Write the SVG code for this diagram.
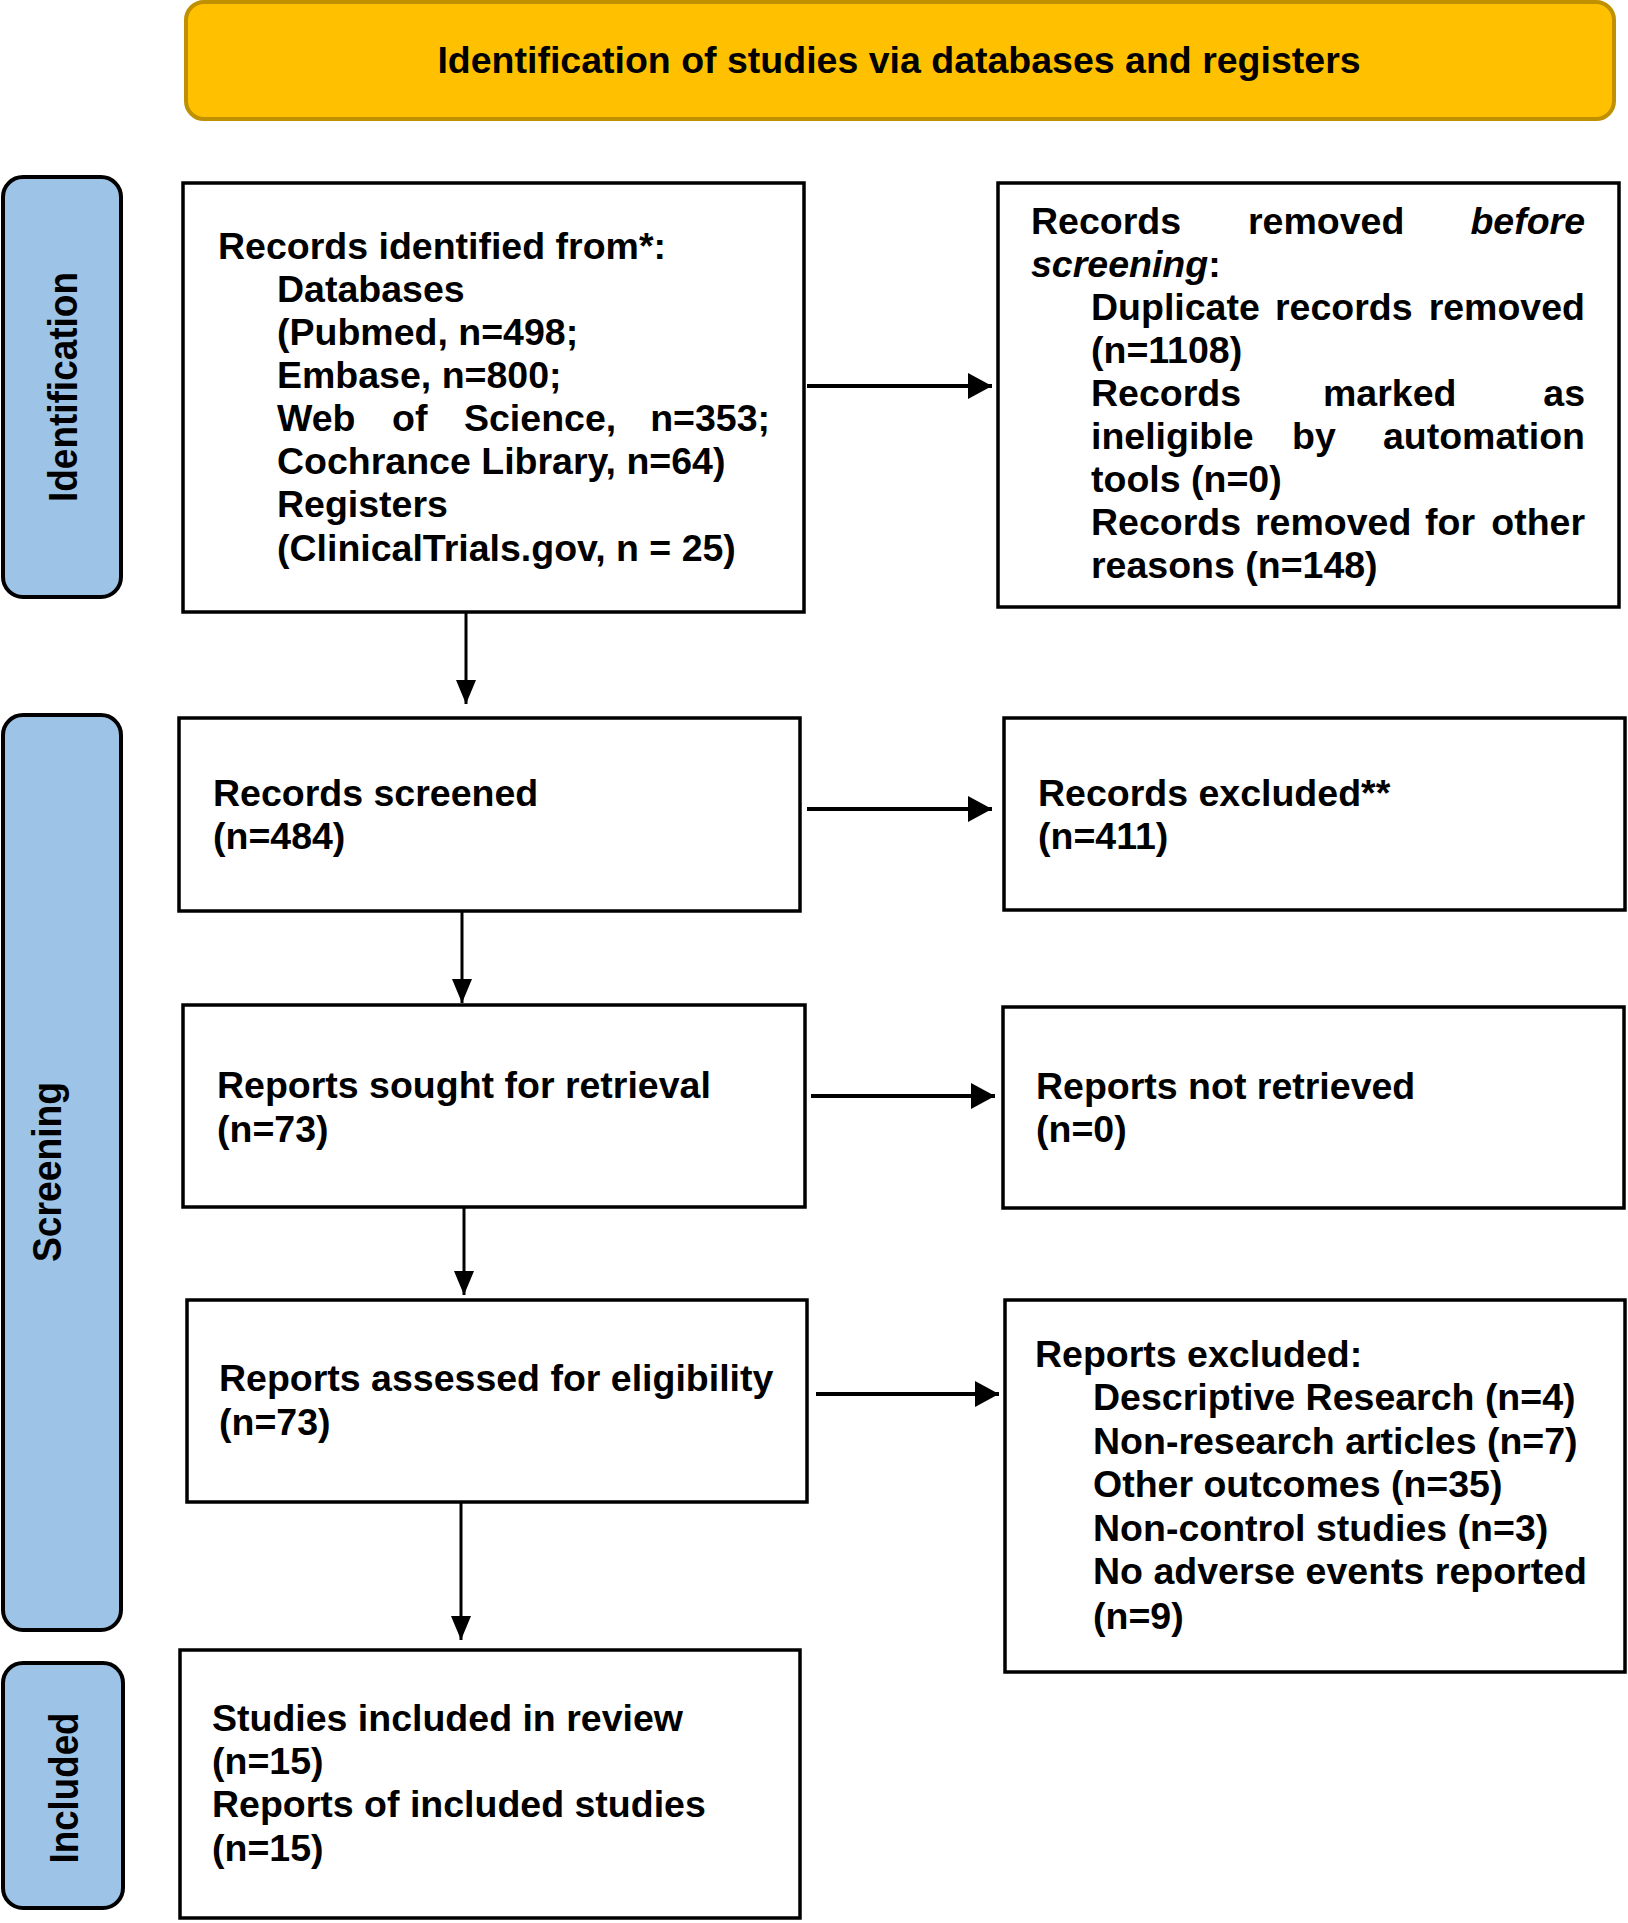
<svg xmlns="http://www.w3.org/2000/svg" width="1628" height="1923" viewBox="0 0 1628 1923">
<style>
text{font-family:"Liberation Sans",Arial,sans-serif;font-weight:bold;font-size:37.5px;fill:#000}
.box{fill:#fff;stroke:#000;stroke-width:3.5}
.side{fill:#9DC3E6;stroke:#000;stroke-width:4}
.side-t{font-size:40px}
.hd{fill:#FFC000;stroke:#BF9000;stroke-width:4}
.it{font-style:italic}
.ch{stroke:#000;stroke-width:4;fill:none}
.cv{stroke:#000;stroke-width:3;fill:none}
</style>
<defs>
<marker id="ah" markerUnits="userSpaceOnUse" markerWidth="24" markerHeight="26" refX="24" refY="13" orient="auto"><path d="M0,0 L24,13 L0,26 Z" fill="#000"/></marker>
<marker id="av" markerUnits="userSpaceOnUse" markerWidth="24" markerHeight="20" refX="24" refY="10" orient="auto"><path d="M0,0 L24,10 L0,20 Z" fill="#000"/></marker>
</defs>
<rect width="1628" height="1923" fill="#fff"/>

<g id="header">
<rect class="hd" x="186" y="2" width="1428" height="117" rx="18"/>
<text x="899" y="73" text-anchor="middle">Identification of studies via databases and registers</text>
</g>

<g id="label-identification">
<rect class="side" x="3" y="177" width="118" height="420" rx="20"/>
<text class="side-t" transform="translate(77,387) rotate(-90)" text-anchor="middle" textLength="230" lengthAdjust="spacingAndGlyphs">Identification</text>
</g>
<g id="label-screening">
<rect class="side" x="3" y="715" width="118" height="915" rx="20"/>
<text class="side-t" transform="translate(61,1172) rotate(-90)" text-anchor="middle" textLength="180" lengthAdjust="spacingAndGlyphs">Screening</text>
</g>
<g id="label-included">
<rect class="side" x="3" y="1663" width="120" height="245" rx="20"/>
<text class="side-t" transform="translate(78,1788) rotate(-90)" text-anchor="middle" textLength="151" lengthAdjust="spacingAndGlyphs">Included</text>
</g>

<g id="records-identified">
<rect class="box" x="183" y="183" width="621" height="429"/>
<text x="218" y="259">Records identified from*:</text>
<text x="277" y="302">Databases</text>
<text x="277" y="345">(Pubmed, n=498;</text>
<text x="277" y="388">Embase, n=800;</text>
<text y="431"><tspan x="277">Web</tspan><tspan x="392">of</tspan><tspan x="464">Science,</tspan></text>
<text x="770" y="431" text-anchor="end">n=353;</text>
<text x="277" y="474">Cochrance Library, n=64)</text>
<text x="277" y="517">Registers</text>
<text x="277" y="561">(ClinicalTrials.gov, n = 25)</text>
</g>

<g id="records-removed">
<rect class="box" x="998" y="183" width="621" height="424"/>
<text y="234"><tspan x="1031">Records</tspan><tspan x="1248">removed</tspan></text>
<text class="it" x="1585" y="234" text-anchor="end">before</text>
<text x="1031" y="277"><tspan class="it">screening</tspan>:</text>
<text y="320"><tspan x="1091">Duplicate</tspan><tspan x="1275">records</tspan></text>
<text x="1585" y="320" text-anchor="end">removed</text>
<text x="1091" y="363">(n=1108)</text>
<text y="406"><tspan x="1091">Records</tspan><tspan x="1323">marked</tspan></text>
<text x="1585" y="406" text-anchor="end">as</text>
<text y="449"><tspan x="1091">ineligible</tspan><tspan x="1292">by</tspan></text>
<text x="1585" y="449" text-anchor="end">automation</text>
<text x="1091" y="492">tools (n=0)</text>
<text y="535"><tspan x="1091">Records</tspan><tspan x="1255">removed</tspan><tspan x="1425">for</tspan></text>
<text x="1585" y="535" text-anchor="end">other</text>
<text x="1091" y="578">reasons (n=148)</text>
</g>

<g id="records-screened">
<rect class="box" x="179" y="718" width="621" height="193"/>
<text x="213" y="806">Records screened</text>
<text x="213" y="849">(n=484)</text>
</g>

<g id="records-excluded">
<rect class="box" x="1004" y="718" width="621" height="192"/>
<text x="1038" y="806">Records excluded**</text>
<text x="1038" y="849">(n=411)</text>
</g>

<g id="reports-sought">
<rect class="box" x="183" y="1005" width="622" height="202"/>
<text x="217" y="1098">Reports sought for retrieval</text>
<text x="217" y="1142">(n=73)</text>
</g>

<g id="reports-not-retrieved">
<rect class="box" x="1003" y="1007" width="621" height="201"/>
<text x="1036" y="1099">Reports not retrieved</text>
<text x="1036" y="1142">(n=0)</text>
</g>

<g id="reports-assessed">
<rect class="box" x="187" y="1300" width="620" height="202"/>
<text x="219" y="1391">Reports assessed for eligibility</text>
<text x="219" y="1435">(n=73)</text>
</g>

<g id="reports-excluded">
<rect class="box" x="1005" y="1300" width="620" height="372"/>
<text x="1035" y="1367">Reports excluded:</text>
<text x="1093" y="1410">Descriptive Research (n=4)</text>
<text x="1093" y="1454">Non-research articles (n=7)</text>
<text x="1093" y="1497">Other outcomes (n=35)</text>
<text x="1093" y="1541">Non-control studies (n=3)</text>
<text x="1093" y="1584">No adverse events reported</text>
<text x="1093" y="1629">(n=9)</text>
</g>

<g id="studies-included">
<rect class="box" x="180" y="1650" width="620" height="268"/>
<text x="212" y="1731">Studies included in review</text>
<text x="212" y="1774">(n=15)</text>
<text x="212" y="1817">Reports of included studies</text>
<text x="212" y="1861">(n=15)</text>
</g>

<g id="connectors">
<line class="ch" x1="807" y1="386" x2="992" y2="386" marker-end="url(#ah)"/>
<line class="ch" x1="807" y1="809" x2="992" y2="809" marker-end="url(#ah)"/>
<line class="ch" x1="811" y1="1096" x2="995" y2="1096" marker-end="url(#ah)"/>
<line class="ch" x1="816" y1="1394" x2="999" y2="1394" marker-end="url(#ah)"/>
<line class="cv" x1="466" y1="612" x2="466" y2="704" marker-end="url(#av)"/>
<line class="cv" x1="462" y1="911" x2="462" y2="1003" marker-end="url(#av)"/>
<line class="cv" x1="464" y1="1207" x2="464" y2="1295" marker-end="url(#av)"/>
<line class="cv" x1="461" y1="1502" x2="461" y2="1640" marker-end="url(#av)"/>
</g>
</svg>
